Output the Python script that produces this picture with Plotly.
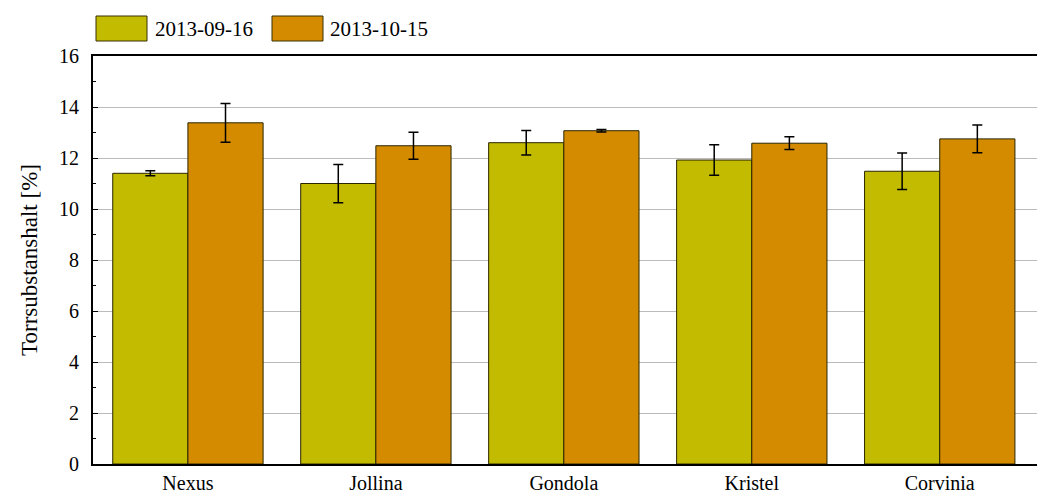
import plotly.graph_objects as go

categories = ["Nexus", "Jollina", "Gondola", "Kristel", "Corvinia"]
series_names = ["2013-09-16", "2013-10-15"]
values_sep = [11.4, 11.0, 12.6, 11.92, 11.48]
err_sep = [0.1, 0.75, 0.48, 0.6, 0.72]
values_oct = [13.38, 12.48, 13.07, 12.58, 12.75]
err_oct = [0.76, 0.53, 0.05, 0.25, 0.54]
y_ticks = [0, 2, 4, 6, 8, 10, 12, 14, 16]

OFF = 8  # page body margin
W, H = 1045 - OFF, 493 - OFF
L, R, T, B = 93 - OFF, 0, 56 - OFF, 29
FONT = "Liberation Serif"
GREEN = "#C2BB00"
ORANGE = "#D48B00"

fig = go.Figure()
for name, vals, errs, col in [(series_names[0], values_sep, err_sep, GREEN),
                              (series_names[1], values_oct, err_oct, ORANGE)]:
    fig.add_trace(go.Bar(
        x=categories, y=vals, name=name,
        marker=dict(color=col, line=dict(color="#2b2600", width=1)),
        error_y=dict(type="data", array=errs, visible=True,
                     color="black", thickness=1.5, width=5),
        showlegend=False,
    ))

def px2paper(px, py):
    # px, py in screen pixels
    return (px - OFF - L) / (W - L - R), (H + OFF - B - py) / (H - T - B)

shapes = []
annotations = []
for (x0, x1, tx), col, name in [((96, 147, 155), GREEN, series_names[0]),
                                ((272, 323, 330), ORANGE, series_names[1])]:
    a0, b0 = px2paper(x0, 41)
    a1, b1 = px2paper(x1, 16)
    shapes.append(dict(type="rect", xref="paper", yref="paper",
                       x0=a0, x1=a1, y0=b0, y1=b1,
                       fillcolor=col, line=dict(color="#3a3000", width=1)))
    ax, ay = px2paper(tx, 28.5)
    annotations.append(dict(xref="paper", yref="paper", x=ax, y=ay,
                            xanchor="left", yanchor="middle", text=name,
                            showarrow=False, xshift=-2,
                            font=dict(family=FONT, size=21, color="black")))

fig.update_layout(
    width=W, height=H,
    margin=dict(l=L, r=R, t=T, b=B, pad=0),
    paper_bgcolor="white", plot_bgcolor="white",
    barmode="group", bargap=0.2, bargroupgap=0,
    font=dict(family=FONT, size=20, color="black"),
    shapes=shapes, annotations=annotations,
    xaxis=dict(range=[-0.505, 4.56], showline=True, linecolor="black",
               linewidth=2, mirror=True, showgrid=False, ticks="",
               automargin=False,
               tickfont=dict(family=FONT, size=20)),
    yaxis=dict(range=[0, 16], tickvals=y_ticks, showline=True,
               linecolor="black", linewidth=2, showgrid=True,
               gridcolor="#BBBBBB", gridwidth=1, ticks="inside",
               ticklen=5, tickcolor="black", zeroline=False,
               ticklabelstandoff=8, automargin=False,
               minor=dict(dtick=1, ticks="inside", ticklen=3, tickcolor="black", showgrid=False),
               tickfont=dict(family=FONT, size=20),
               title=dict(text="Torrsubstanshalt [%]", standoff=15,
                          font=dict(family=FONT, size=23))),
)

fig.write_html("out.html")
